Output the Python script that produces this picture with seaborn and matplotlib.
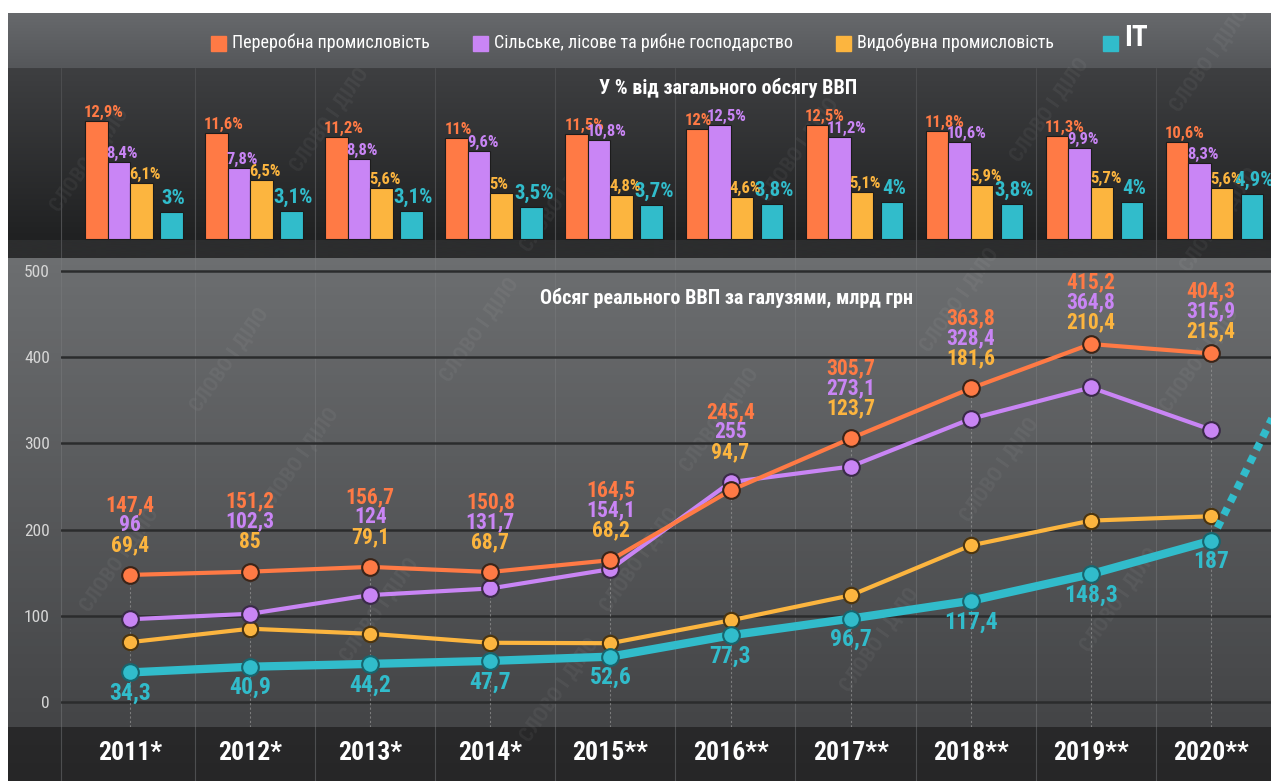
import matplotlib
matplotlib.use("Agg")
import matplotlib.pyplot as plt
import numpy as np
import pandas as pd
import seaborn as sns
from matplotlib.patches import Rectangle

# дані
years = ["2011*", "2012*", "2013*", "2014*", "2015**", "2016**", "2017**", "2018**", "2019**", "2020**"]
sectors = ["Переробна промисловість", "Сільське, лісове та рибне господарство",
           "Видобувна промисловість", "IT"]
colors = ["#ff7a45", "#c985f5", "#fcb53f", "#31bccb"]

# У % від загального обсягу ВВП
share_manuf = [12.9, 11.6, 11.2, 11, 11.5, 12, 12.5, 11.8, 11.3, 10.6]
share_agro = [8.4, 7.8, 8.8, 9.6, 10.8, 12.5, 11.2, 10.6, 9.9, 8.3]
share_mining = [6.1, 6.5, 5.6, 5, 4.8, 4.6, 5.1, 5.9, 5.7, 5.6]
share_it = [3, 3.1, 3.1, 3.5, 3.7, 3.8, 4, 3.8, 4, 4.9]

# Обсяг реального ВВП, млрд грн
gdp_manuf = [147.4, 151.2, 156.7, 150.8, 164.5, 245.4, 305.7, 363.8, 415.2, 404.3]
gdp_agro = [96, 102.3, 124, 131.7, 154.1, 255, 273.1, 328.4, 364.8, 315.9]
gdp_mining = [69.4, 85, 79.1, 68.7, 68.2, 94.7, 123.7, 181.6, 210.4, 215.4]
gdp_it = [34.3, 40.9, 44.2, 47.7, 52.6, 77.3, 96.7, 117.4, 148.3, 187]
it_forecast = [187, 466]  # пунктир після 2020

shares = [share_manuf, share_agro, share_mining, share_it]
gdps = [gdp_manuf, gdp_agro, gdp_mining, gdp_it]

df_share = pd.DataFrame({
    "year": np.tile(years, 4),
    "sector": np.repeat(sectors, 10),
    "share": np.concatenate(shares),
})
df_gdp = pd.DataFrame({
    "x": np.tile(np.arange(10), 4),
    "sector": np.repeat(sectors, 10),
    "value": np.concatenate(gdps),
})

sns.set_style("dark")
plt.rcParams["font.family"] = ["Roboto Condensed", "DejaVu Sans"]
plt.rcParams["font.weight"] = "bold"

W, H = 1271, 781
fig = plt.figure(figsize=(W / 100, H / 100), dpi=100, facecolor="white")


def fmt(v):
    return f"{v:g}".replace(".", ",")


# фон
ax_bg = fig.add_axes([0, 0, 1, 1], zorder=-10)
ax_bg.axis("off")


def band(y0, y1, c_top, c_bot):
    a = np.array(matplotlib.colors.to_rgb(c_top))
    b = np.array(matplotlib.colors.to_rgb(c_bot))
    t = np.linspace(0, 1, 64)[:, None]
    grad = (a * (1 - t) + b * t)[:, None, :]
    ax_bg.imshow(grad, extent=(8, W, y1, y0), aspect="auto", origin="upper")


band(13, 68, "#67696c", "#55575a")
band(68, 240, "#3e3f41", "#202122")
band(240, 258, "#2c2d2e", "#2c2d2e")
band(258, 727, "#6c6e70", "#444547")
band(727, H, "#29292a", "#262627")
ax_bg.set_xlim(0, W)
ax_bg.set_ylim(H, 0)

# водяні знаки
for wx, wy in [(90, 160), (330, 120), (560, 200), (800, 150), (1050, 110), (1210, 60),
               (230, 360), (480, 330), (720, 420), (960, 300), (1200, 360),
               (120, 560), (380, 610), (640, 560), (880, 640), (1120, 600),
               (300, 460), (1000, 470), (560, 690), (1220, 220)]:
    ax_bg.text(wx, wy, "СЛОВО І ДІЛО", color="white", alpha=0.05, fontsize=15,
               rotation=55, ha="center", va="center", zorder=50)

# легенда
leg_x = [211, 473, 836, 1103]
for i, (lx, name) in enumerate(zip(leg_x, sectors)):
    ax_bg.add_patch(Rectangle((lx, 36), 15, 15, color=colors[i]))
    if name == "IT":
        ax_bg.text(lx + 21, 38, name, color="white", fontsize=21, va="center", ha="left")
    else:
        ax_bg.text(lx + 21, 43, name, color="white", fontsize=13, va="center", ha="left",
                   fontweight="normal")

x_left, x_right = -0.575, 9.5
left = 61 / W
width = 1 - left

# стовпчики
ax_bar = fig.add_axes([left, (H - 258) / H, width, 190 / H])
ax_bar.set_facecolor("none")
sns.barplot(data=df_share, x="year", y="share", hue="sector", hue_order=sectors,
            palette=colors, width=0.75, saturation=1, edgecolor="#1c1c1c", linewidth=0.8,
            legend=False, ax=ax_bar)
for p in ax_bar.containers[3]:
    p.set_x(p.get_x() + 0.0625)
ax_bar.set_xlim(x_left, x_right)
ax_bar.set_ylim(-2.08, 18.7)
ax_bar.axis("off")
for k in range(9):
    ax_bar.axvline(k + 0.54, color="#4c4d4f", lw=0.8, zorder=0)
ax_bar.axvline(x_left, color="#4c4d4f", lw=0.8, zorder=0)

for i, cont in enumerate(ax_bar.containers):
    for p, v in zip(cont, shares[i]):
        if i < 3:
            ax_bar.annotate(fmt(v) + "%", (p.get_x(), p.get_height()), xytext=(-1, 1),
                            textcoords="offset pixels", ha="left", va="bottom",
                            color=colors[i], fontsize=12)
        else:
            ax_bar.annotate(fmt(v) + "%", (p.get_x() + p.get_width() / 2, p.get_height()),
                            xytext=(2, 4), textcoords="offset pixels", ha="center",
                            va="bottom", color=colors[i], fontsize=15)

ax_bar.text(0.551, 0.895, "У % від загального обсягу ВВП", transform=ax_bar.transAxes,
            color="white", fontsize=14.5, ha="center", va="center")

# лінії
ax = fig.add_axes([left, 54 / H, width, 469 / H])
ax.set_facecolor("none")
ax.set_xlim(x_left, x_right)
ax.set_ylim(-29, 515)
ax.grid(axis="y", color="#2b2c2d", lw=1.8)
ax.grid(axis="x", visible=False)
for s in ax.spines.values():
    s.set_visible(False)
for k in range(9):
    ax.axvline(k + 0.54, ymin=-54 / 469, ymax=1, color="#7c7e80", lw=0.8, alpha=0.45,
               clip_on=False, zorder=0)
ax.axvline(x_left, ymin=-54 / 469, ymax=1, color="#7c7e80", lw=0.8, alpha=0.45,
           clip_on=False, zorder=0)

tops = np.max([gdp_manuf, gdp_agro, gdp_mining], axis=0)
ax.vlines(np.arange(10), -29, tops, color="#a0a0a0", lw=0.8, linestyles=(0, (2, 2)),
          alpha=0.6, zorder=1)

edge = ["#3a2418", "#3a2a48", "#4a3410", "#17656e"]
lw = [3, 3, 3, 6]
ms = [12, 12, 11, 12]
order = [2, 1, 0, 3]
for i in order:
    sub = df_gdp[df_gdp["sector"] == sectors[i]]
    sns.lineplot(data=sub, x="x", y="value", color=colors[i], lw=lw[i], marker="o",
                 markersize=ms[i], markeredgecolor=edge[i], markeredgewidth=1.5,
                 ax=ax, zorder=3 + (i == 3))

ax.plot([9, 10], it_forecast, color=colors[3], lw=5.5, linestyle=(0, (1, 0.9)),
        dash_capstyle="butt", zorder=3)

for k in range(10):
    base = 30 if tops[k] < 380 else 22
    for j, step in enumerate([40, 20, 0]):
        ax.annotate(fmt(gdps[j][k]), (k, tops[k]), xytext=(0, base + step),
                    textcoords="offset pixels", ha="center", va="center",
                    color=colors[j], fontsize=15.5)
    ax.annotate(fmt(gdp_it[k]), (k, gdp_it[k]), xytext=(0, -21), textcoords="offset pixels",
                ha="center", va="center", color=colors[3], fontsize=17)

ax.text(0.55, 0.915, "Обсяг реального ВВП за галузями, млрд грн", transform=ax.transAxes,
        color="white", fontsize=14.5, ha="center", va="center")

ax.set_xticks(range(10), years)
ax.set_yticks([0, 100, 200, 300, 400, 500])
ax.tick_params(axis="x", length=0, pad=10, labelsize=18.5, colors="white")
ax.tick_params(axis="y", length=0, pad=8, labelsize=12.5, colors="#d6d6d6")
for t in ax.get_yticklabels():
    t.set_fontweight("normal")
ax.set_xlabel("")
ax.set_ylabel("")

fig.savefig("out.png", dpi=100, facecolor="white")
